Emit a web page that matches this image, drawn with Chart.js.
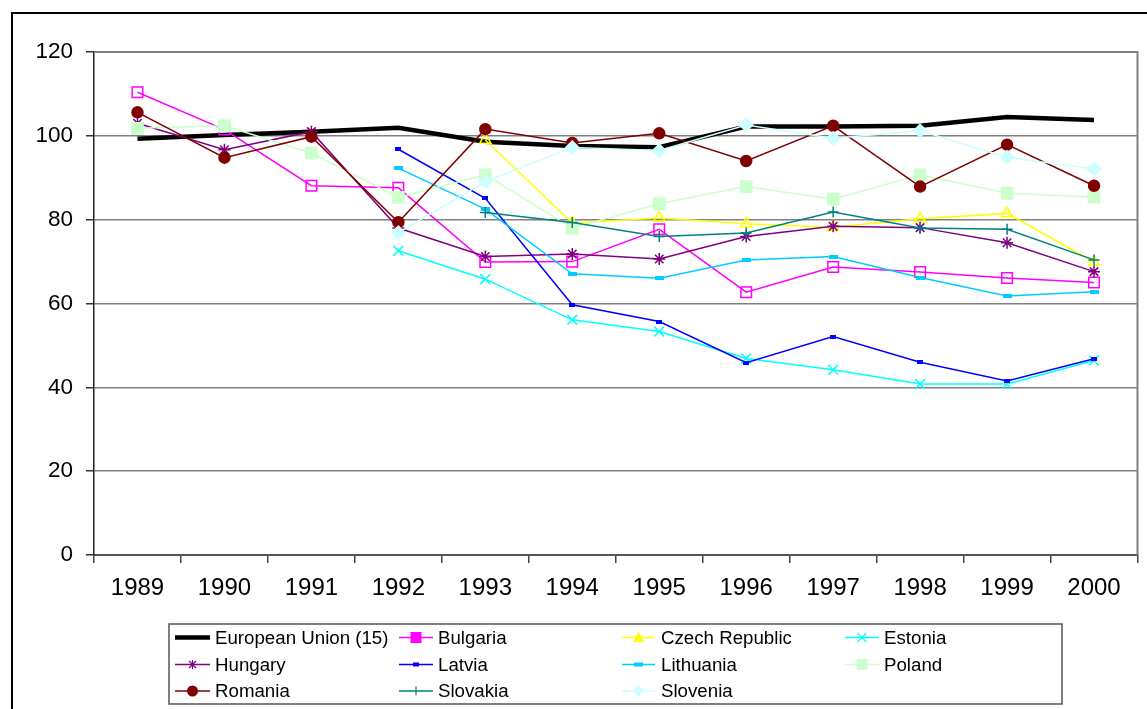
<!DOCTYPE html>
<html>
<head>
<meta charset="utf-8">
<script src="https://cdn.jsdelivr.net/npm/chart.js@4.4.1/dist/chart.umd.min.js"></script>
<style>
  html, body { margin: 0; padding: 0; background: #fff; }
  #wrap { width: 1147px; height: 709px; position: relative; }
</style>
</head>
<body>
<div id="wrap"><canvas id="c" width="1147" height="709"></canvas></div>
<script>
// ---- Data ----
const categories = ['1989','1990','1991','1992','1993','1994','1995','1996','1997','1998','1999','2000'];
const yTicks = [0, 20, 40, 60, 80, 100, 120];

const euValues        = [99.3, 100.2, 101.0, 101.9, 98.6, 97.6, 97.3, 102.2, 102.2, 102.4, 104.5, 103.8];
const bulgariaValues  = [110.4, 101.5, 88.1, 87.6, 69.9, 70.0, 77.7, 62.7, 68.7, 67.5, 66.1, 65.0];
const czechValues     = [null, null, null, null, 99.0, 79.2, 80.4, 79.0, 78.2, 80.2, 81.5, 69.9];
const estoniaValues   = [null, null, null, 72.6, 65.8, 56.1, 53.3, 46.9, 44.2, 40.8, 40.8, 46.4];
const hungaryValues   = [103.0, 96.7, 101.0, 78.0, 71.2, 71.8, 70.6, 76.0, 78.4, 78.1, 74.5, 67.6];
const latviaValues    = [null, null, null, 96.8, 85.1, 59.7, 55.7, 45.9, 52.1, 46.0, 41.5, 46.8];
const lithuaniaValues = [null, null, null, 92.3, 82.5, 67.1, 66.0, 70.4, 71.2, 66.2, 61.8, 62.8];
const polandValues    = [101.8, 102.4, 95.9, 85.3, 90.7, 78.0, 83.8, 87.9, 84.9, 90.7, 86.3, 85.4];
const romaniaValues   = [105.6, 94.8, 99.8, 79.4, 101.6, 98.3, 100.6, 94.0, 102.4, 87.9, 97.9, 88.1];
const slovakiaValues  = [null, null, null, null, 81.7, 79.3, 76.0, 76.8, 81.8, 78.0, 77.7, 70.4];
const sloveniaValues  = [null, null, null, 76.9, 89.1, 97.2, 96.5, 102.6, 99.4, 101.2, 94.9, 92.1];

const seriesNames = ['European Union (15)', 'Bulgaria', 'Czech Republic', 'Estonia', 'Hungary', 'Latvia',
                     'Lithuania', 'Poland', 'Romania', 'Slovakia', 'Slovenia'];

// ---- Styles ----
const FONT = "'Liberation Sans', Arial, sans-serif";
function dashImg(w, h, color) {
  const c = document.createElement('canvas');
  c.width = w; c.height = h;
  const x = c.getContext('2d');
  x.fillStyle = color; x.fillRect(0, 0, w, h);
  return c;
}
const latviaDash = dashImg(6, 4, '#0000FF');
const lithuaniaDash = dashImg(9, 4, '#00CCFF');

const styles = [
  { color: '#000000', width: 4.5, pointStyle: false,      radius: 0,   fill: false },
  { color: '#FF00FF', width: 1.5, pointStyle: 'rect',     radius: 7.5, fill: false },
  { color: '#FFFF00', width: 1.5, pointStyle: 'triangle', radius: 6.5, fill: false },
  { color: '#00FFFF', width: 1.5, pointStyle: 'crossRot', radius: 7,   fill: false },
  { color: '#800080', width: 1.5, pointStyle: 'star',     radius: 6,   fill: false },
  { color: '#0000FF', width: 1.5, pointStyle: latviaDash, radius: 3,   fill: true },
  { color: '#00CCFF', width: 1.5, pointStyle: lithuaniaDash, radius: 4, fill: true },
  { color: '#CCFFCC', width: 1.5, pointStyle: 'rect',     radius: 8,   fill: true },
  { color: '#800000', width: 1.5, pointStyle: 'circle',   radius: 5.5, fill: true },
  { color: '#008080', width: 1.5, pointStyle: 'cross',    radius: 5.5, fill: false },
  { color: '#CCFFFF', width: 1.5, pointStyle: 'rectRot',  radius: 6.5, fill: true }
];

const allValues = [euValues, bulgariaValues, czechValues, estoniaValues, hungaryValues, latviaValues,
                   lithuaniaValues, polandValues, romaniaValues, slovakiaValues, sloveniaValues];

const datasets = allValues.map((vals, i) => {
  const s = styles[i];
  return {
    label: seriesNames[i],
    data: vals,
    borderColor: s.color,
    borderWidth: s.width,
    backgroundColor: s.fill ? s.color : 'rgba(0,0,0,0)',
    pointStyle: s.pointStyle,
    pointRadius: s.radius,
    pointHoverRadius: s.radius,
    pointBorderWidth: 1.5,
    pointBorderColor: s.color,
    pointBackgroundColor: s.fill ? s.color : 'rgba(0,0,0,0)',
    tension: 0,
    spanGaps: false,
    order: allValues.length - i
  };
});

// ---- Plugins ----
const bgPlugin = {
  id: 'bg',
  beforeDraw(chart) {
    const ctx = chart.ctx;
    ctx.save();
    ctx.fillStyle = '#fff';
    ctx.fillRect(0, 0, chart.width, chart.height);
    ctx.restore();
  },
  beforeDatasetsDraw(chart) {
    const { ctx, chartArea: a } = chart;
    ctx.save();
    ctx.strokeStyle = '#808080';
    ctx.lineWidth = 2;
    ctx.beginPath();
    ctx.moveTo(a.left, a.top);
    ctx.lineTo(a.right, a.top);
    ctx.lineTo(a.right, a.bottom);
    ctx.stroke();
    ctx.restore();
  },
  afterDraw(chart) {
    const ctx = chart.ctx;
    ctx.save();
    ctx.strokeStyle = '#000';
    ctx.lineWidth = 2;
    ctx.strokeRect(12, 13, 1300, 900);
    ctx.restore();
  }
};

function drawMarker(ctx, style, x, y, s) {
  ctx.save();
  ctx.strokeStyle = s.color;
  ctx.fillStyle = s.color;
  ctx.lineWidth = 1.2;
  ctx.beginPath();
  if (style === 'rect') {
    ctx.rect(x - 5.5, y - 5.5, 11, 11); ctx.fill();
  } else if (style === 'triangle') {
    ctx.moveTo(x, y - 6); ctx.lineTo(x + 5.5, y + 4.5); ctx.lineTo(x - 5.5, y + 4.5); ctx.closePath(); ctx.fill();
  } else if (style === 'crossRot') {
    ctx.moveTo(x - 4.5, y - 4.5); ctx.lineTo(x + 4.5, y + 4.5); ctx.moveTo(x + 4.5, y - 4.5); ctx.lineTo(x - 4.5, y + 4.5); ctx.stroke();
  } else if (style === 'star') {
    ctx.moveTo(x - 3.5, y - 3.5); ctx.lineTo(x + 3.5, y + 3.5); ctx.moveTo(x + 3.5, y - 3.5); ctx.lineTo(x - 3.5, y + 3.5);
    ctx.moveTo(x, y - 4.5); ctx.lineTo(x, y + 4.5); ctx.stroke();
  } else if (style === 'cross') {
    ctx.moveTo(x, y - 4.5); ctx.lineTo(x, y + 4.5); ctx.stroke();
  } else if (style === 'circle') {
    ctx.arc(x, y, 5.5, 0, Math.PI * 2); ctx.fill();
  } else if (style === 'rectRot') {
    ctx.moveTo(x, y - 6); ctx.lineTo(x + 6, y); ctx.lineTo(x, y + 6); ctx.lineTo(x - 6, y); ctx.closePath(); ctx.fill();
  } else if (style === 'dashS') {
    ctx.fillRect(x - 3, y - 2, 6, 4);
  } else if (style === 'dashL') {
    ctx.fillRect(x - 4.5, y - 2, 9, 4);
  }
  ctx.restore();
}

const legendMarkers = [null, 'rect', 'triangle', 'crossRot', 'star', 'dashS', 'dashL', 'rect', 'circle', 'cross', 'rectRot'];

const legendPlugin = {
  id: 'customLegend',
  afterDraw(chart) {
    const ctx = chart.ctx;
    ctx.save();
    ctx.strokeStyle = '#555';
    ctx.lineWidth = 1.5;
    ctx.strokeRect(169, 624, 893, 80);
    const colLine = [[175, 210], [399, 433], [622, 655], [845, 879]];
    const colText = [215, 438, 661, 884];
    const rowY = [637.5, 664.5, 691];
    ctx.font = '18.7px ' + FONT;
    ctx.textBaseline = 'middle';
    ctx.textAlign = 'left';
    seriesNames.forEach((name, i) => {
      const col = i % 4, row = Math.floor(i / 4);
      const s = styles[i];
      const y = rowY[row];
      ctx.strokeStyle = s.color;
      ctx.lineWidth = i === 0 ? 4.5 : 1.5;
      ctx.beginPath();
      ctx.moveTo(colLine[col][0], y);
      ctx.lineTo(colLine[col][1], y);
      ctx.stroke();
      if (legendMarkers[i]) drawMarker(ctx, legendMarkers[i], (colLine[col][0] + colLine[col][1]) / 2, y, s);
      ctx.fillStyle = '#000';
      ctx.fillText(name, colText[col], y + 1);
    });
    ctx.restore();
  }
};

new Chart(document.getElementById('c'), {
  type: 'line',
  data: { labels: categories, datasets },
  plugins: [bgPlugin, legendPlugin],
  options: {
    responsive: false,
    animation: false,
    devicePixelRatio: 1,
    layout: { padding: { top: 52, right: 9, left: 0, bottom: 94 } },
    plugins: { legend: { display: false }, tooltip: { enabled: false }, title: { display: false } },
    scales: {
      x: {
        type: 'category',
        offset: true,
        grid: { offset: true, drawOnChartArea: false, drawTicks: true, tickLength: 8, tickColor: '#444', lineWidth: 1.5 },
        border: { display: true, color: '#555', width: 2 },
        ticks: { color: '#000', font: { family: FONT, size: 24 }, padding: 11, maxRotation: 0, autoSkip: false },
        afterFit(scale) { scale.height = 60; }
      },
      y: {
        min: 0, max: 120,
        afterBuildTicks(scale) { scale.ticks = yTicks.map(v => ({ value: v })); },
        grid: { color: '#808080', lineWidth: 1.5, drawTicks: true, tickLength: 8, tickColor: '#333' },
        border: { display: true, color: '#222', width: 1.5 },
        ticks: { color: '#000', font: { family: FONT, size: 22.5 }, padding: 13 },
        afterFit(scale) { scale.width = 94; }
      }
    }
  }
});
</script>
</body>
</html>
